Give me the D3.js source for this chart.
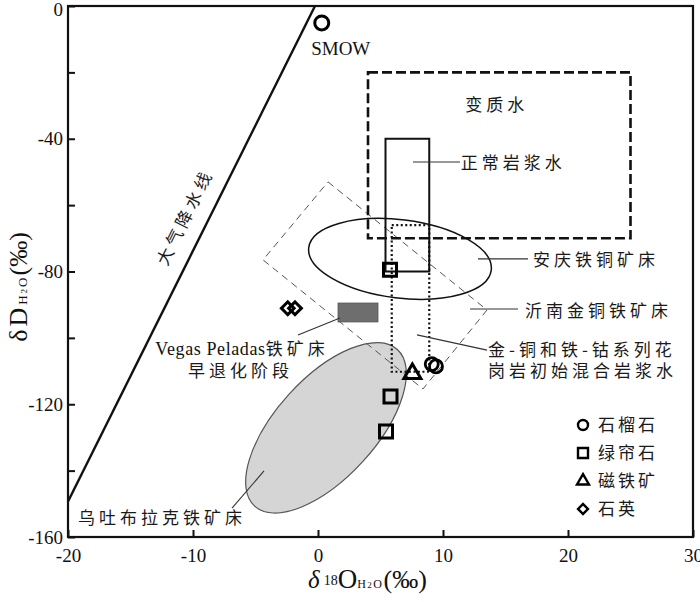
<!DOCTYPE html>
<html>
<head>
<meta charset="utf-8">
<script src="https://cdn.jsdelivr.net/npm/d3@7"></script>
<style>
body { margin: 0; background: #fff; }
svg { display: block; }
.tick text { font-family: "Liberation Serif", "DejaVu Serif", serif; font-size: 19px; fill: #111; }
.cn { font-family: "Noto Sans CJK SC", sans-serif; font-size: 17px; letter-spacing: 4px; fill: #1a1a1a; }
.serif { font-family: "Liberation Serif", "DejaVu Serif", serif; fill: #111; }
</style>
</head>
<body>
<div id="chart"></div>
<script>
// axis ticks
var xTickValues = [-20, -10, 0, 10, 20, 30];
var yTickValues = [0, -20, -40, -60, -80, -100, -120, -140, -160];
var yLabelValues = [0, -40, -80, -120, -160];

// meteoric water line and SMOW
var mwlLine = [[-20, -149.3], [-0.24, 0]];
var smowPoint = [0.3, -5.1];

// fields (d18O range, dD range)
var metamorphicX = [4, 25], metamorphicY = [-70, -20];
var magmaticX = [5.4, 8.9], magmaticY = [-80, -40];
var mixedX = [5.9, 8.9], mixedY = [-110.2, -66];
var vegasX = [1.6, 4.8], vegasY = [-95.2, -89.5];
var yinanCorners = [[0.8, -53.0], [13.52, -91.6], [8.4, -115.4], [-4.4, -76.5]];

// ellipses: centre, end of first axis, end of second axis
var anqingEllipse = [[6.56, -76.2], [13.86, -79.6], [6.18, -87.9]];
var wutuEllipse = [[0.64, -127.1], [6.35, -103.5], [3.6, -137.2]];

// samples
var garnetX = [9.1, 9.44], garnetY = [-107.9, -108.6];
var epidoteX = [5.76, 5.8, 5.44], epidoteY = [-79.5, -117.7, -128.2];
var magnetiteX = [7.55], magnetiteY = [-110.8];
var quartzX = [-2.42, -1.84], quartzY = [-91.1, -91.1];

var legendNames = ['石榴石', '绿帘石', '磁铁矿', '石英'];
var legendShapes = ['circle', 'square', 'triangle', 'diamond'];

// annotations: text, x, y (data units), anchor
var notes = [
  ['变质水', 14.3, -31.6, 'middle'],
  ['正常岩浆水', 11.42, -49.1, 'start'],
  ['安庆铁铜矿床', 17.2, -78.3, 'start'],
  ['沂南金铜铁矿床', 16.56, -93.7, 'start'],
  ['金-铜和铁-钴系列花', 13.6, -105.6, 'start'],
  ['岗岩初始混合岩浆水', 13.6, -111.9, 'start'],
  ['早退化阶段', -6.2, -111.8, 'middle'],
  ['乌吐布拉克铁矿床', -19.2, -156.1, 'start']
];
var leaders = [
  [[7.6, -47.0], [11.36, -47.0]],
  [[12.8, -76.2], [16.8, -76.2]],
  [[12.16, -91.3], [16.0, -91.3]],
  [[7.92, -99.1], [13.52, -103.7]],
  [[1.76, -94.0], [-1.6, -99.1]],
  [[-4.32, -140.1], [-6.88, -151.3]]
];

var margin = { top: 6, right: 7, bottom: 65, left: 68 },
    width = 625, height = 531;

var svg = d3.select('#chart').append('svg')
  .attr('width', 700)
  .attr('height', 602);

var x = d3.scaleLinear().domain([-20, 30]).range([margin.left, margin.left + width]);
var y = d3.scaleLinear().domain([-160, 0]).range([margin.top + height, margin.top]);

var g = svg.append('g');

// ellipse from a centre and two axis end points
function drawEllipse(e) {
  var cx = x(e[0][0]), cy = y(e[0][1]);
  var ux = x(e[1][0]) - cx, uy = y(e[1][1]) - cy;
  var vx = x(e[2][0]) - cx, vy = y(e[2][1]) - cy;
  var ang = Math.atan2(uy, ux) * 180 / Math.PI;
  return g.append('ellipse')
    .attr('cx', cx).attr('cy', cy)
    .attr('rx', Math.hypot(ux, uy)).attr('ry', Math.hypot(vx, vy))
    .attr('transform', 'rotate(' + ang + ',' + cx + ',' + cy + ')');
}

drawEllipse(wutuEllipse)
  .attr('fill', '#d5d5d5').attr('stroke', '#555').attr('stroke-width', 1.2);

// yinan dashed field
g.append('path')
  .datum(yinanCorners)
  .attr('d', d3.line().x(function(d){ return x(d[0]); }).y(function(d){ return y(d[1]); }).curve(d3.curveLinearClosed))
  .attr('fill', 'none').attr('stroke', '#555').attr('stroke-width', 1).attr('stroke-dasharray', '7,5');

function box(xr, yr) {
  return g.append('rect')
    .attr('x', x(xr[0])).attr('y', y(yr[1]))
    .attr('width', x(xr[1]) - x(xr[0])).attr('height', y(yr[0]) - y(yr[1]));
}

box(metamorphicX, metamorphicY)
  .attr('fill', 'none').attr('stroke', '#111').attr('stroke-width', 2.6).attr('stroke-dasharray', '10,4');
box(magmaticX, magmaticY)
  .attr('fill', 'none').attr('stroke', '#111').attr('stroke-width', 2);
box(mixedX, mixedY)
  .attr('fill', 'none').attr('stroke', '#111').attr('stroke-width', 2.2).attr('stroke-dasharray', '2,2.5');
box(vegasX, vegasY)
  .attr('fill', '#6e6e6e').attr('stroke', '#555').attr('stroke-width', 0.8);

drawEllipse(anqingEllipse)
  .attr('fill', 'none').attr('stroke', '#111').attr('stroke-width', 1.5);

// meteoric water line
g.append('line')
  .attr('x1', x(mwlLine[0][0])).attr('y1', y(mwlLine[0][1]))
  .attr('x2', x(mwlLine[1][0])).attr('y2', y(mwlLine[1][1]))
  .attr('stroke', '#111').attr('stroke-width', 2.4);

var mwlAngle = Math.atan2(y(mwlLine[1][1]) - y(mwlLine[0][1]), x(mwlLine[1][0]) - x(mwlLine[0][0])) * 180 / Math.PI;
svg.append('text')
  .attr('class', 'cn')
  .attr('text-anchor', 'middle')
  .attr('transform', 'translate(' + x(-10.64) + ',' + y(-63.6) + ') rotate(' + mwlAngle + ')')
  .attr('dy', '0.35em')
  .text('大气降水线');

// leader lines
leaders.forEach(function(l) {
  g.append('line')
    .attr('x1', x(l[0][0])).attr('y1', y(l[0][1]))
    .attr('x2', x(l[1][0])).attr('y2', y(l[1][1]))
    .attr('stroke', '#333').attr('stroke-width', 1.1);
});

// symbols
var symbolPath = {
  circle: function(s) { return d3.symbol(d3.symbolCircle, Math.PI * s * s / 4)(); },
  square: function(s) { return d3.symbol(d3.symbolSquare, s * s)(); },
  triangle: function(s) { return d3.symbol(d3.symbolTriangle, s * s * Math.sqrt(3) / 4)(); },
  diamond: function(s) { return d3.symbol(d3.symbolSquare, s * s)(); }
};

function drawMarkers(xs, ys, shape, size, sw) {
  g.selectAll(null)
    .data(xs)
    .enter().append('path')
    .attr('d', symbolPath[shape](size))
    .attr('transform', function(d, i) {
      return 'translate(' + x(d) + ',' + y(ys[i]) + ')' + (shape === 'diamond' ? ' rotate(45)' : '');
    })
    .attr('fill', 'none').attr('stroke', '#000').attr('stroke-width', sw);
}

drawMarkers([smowPoint[0]], [smowPoint[1]], 'circle', 14, 3);
drawMarkers(garnetX, garnetY, 'circle', 13, 2.8);
drawMarkers(epidoteX, epidoteY, 'square', 13, 3);
drawMarkers(magnetiteX, magnetiteY, 'triangle', 17, 3);
drawMarkers(quartzX, quartzY, 'diamond', 9, 3);

svg.append('text')
  .attr('class', 'serif')
  .attr('x', x(1.82)).attr('y', y(-14.8))
  .attr('text-anchor', 'middle')
  .style('font-size', '19px')
  .text('SMOW');

// annotations
notes.forEach(function(n) {
  svg.append('text')
    .attr('class', 'cn')
    .attr('x', x(n[1])).attr('y', y(n[2]))
    .attr('text-anchor', n[3])
    .text(n[0]);
});

var vegas = svg.append('text')
  .attr('class', 'cn')
  .attr('x', x(-6.08)).attr('y', y(-105.2))
  .attr('text-anchor', 'middle');
vegas.append('tspan')
  .attr('class', 'serif')
  .style('font-size', '18px').style('letter-spacing', '0.6px')
  .text('Vegas Peladas');
vegas.append('tspan').text('铁矿床');

// legend
var legend = svg.append('g').attr('transform', 'translate(583,425)');
legendNames.forEach(function(name, i) {
  var item = legend.append('g').attr('transform', 'translate(0,' + (i * 28) + ')');
  var s = [10, 10, 12, 7][i];
  item.append('path')
    .attr('d', symbolPath[legendShapes[i]](s))
    .attr('transform', legendShapes[i] === 'diamond' ? 'rotate(45)' : null)
    .attr('fill', 'none').attr('stroke', '#000').attr('stroke-width', 2.4);
  item.append('text')
    .attr('class', 'cn')
    .attr('x', 15).attr('dy', '0.36em')
    .style('letter-spacing', '3px')
    .text(name);
});

// axes (plain hyphen for negative labels, as in the figure)
var xAxis = d3.axisBottom(x).tickValues(xTickValues).tickSize(-7).tickPadding(12)
  .tickFormat(function(d) { return String(d); });
var yAxis = d3.axisLeft(y).tickValues(yTickValues).tickSize(-7).tickPadding(5)
  .tickFormat(function(d) { return yLabelValues.indexOf(d) >= 0 ? String(d) : ''; });

var gx = svg.append('g')
  .attr('transform', 'translate(0,' + (margin.top + height) + ')')
  .call(xAxis);
var gy = svg.append('g')
  .attr('transform', 'translate(' + margin.left + ',0)')
  .call(yAxis);
[gx, gy].forEach(function(a) {
  a.select('.domain').remove();
  a.selectAll('.tick line').attr('stroke', '#111').attr('stroke-width', 2);
});
gy.selectAll('.tick text').filter(function(d) { return d === 0; }).attr('dy', '0.5em');

// frame
svg.append('rect')
  .attr('x', margin.left).attr('y', margin.top)
  .attr('width', width).attr('height', height)
  .attr('fill', 'none').attr('stroke', '#111').attr('stroke-width', 2.2);

// axis titles
var xt = svg.append('text')
  .attr('class', 'serif')
  .attr('x', 308).attr('y', 588);
xt.append('tspan').style('font-size', '25px').style('font-style', 'italic').text('δ');
xt.append('tspan').style('font-size', '14px').attr('dx', 4).attr('dy', -3).text('18');
xt.append('tspan').style('font-size', '27px').attr('dy', 3).text('O');
xt.append('tspan').style('font-size', '12px').style('letter-spacing', '1.5px').text('H');
xt.append('tspan').style('font-size', '9px').style('letter-spacing', '1.5px').text('2');
xt.append('tspan').style('font-size', '12px').style('letter-spacing', '1.5px').text('O');
xt.append('tspan').style('font-size', '26px').text('(‰)');

var yt = svg.append('text')
  .attr('class', 'serif')
  .attr('text-anchor', 'middle')
  .attr('transform', 'translate(27,287) rotate(-90)');
yt.append('tspan').style('font-size', '26px').style('letter-spacing', '3px').text('δD');
yt.append('tspan').style('font-size', '13px').style('letter-spacing', '2px').text('H');
yt.append('tspan').style('font-size', '9px').style('letter-spacing', '2px').text('2');
yt.append('tspan').style('font-size', '13px').style('letter-spacing', '2px').text('O');
yt.append('tspan').style('font-size', '26px').text('(‰)');
</script>
</body>
</html>
